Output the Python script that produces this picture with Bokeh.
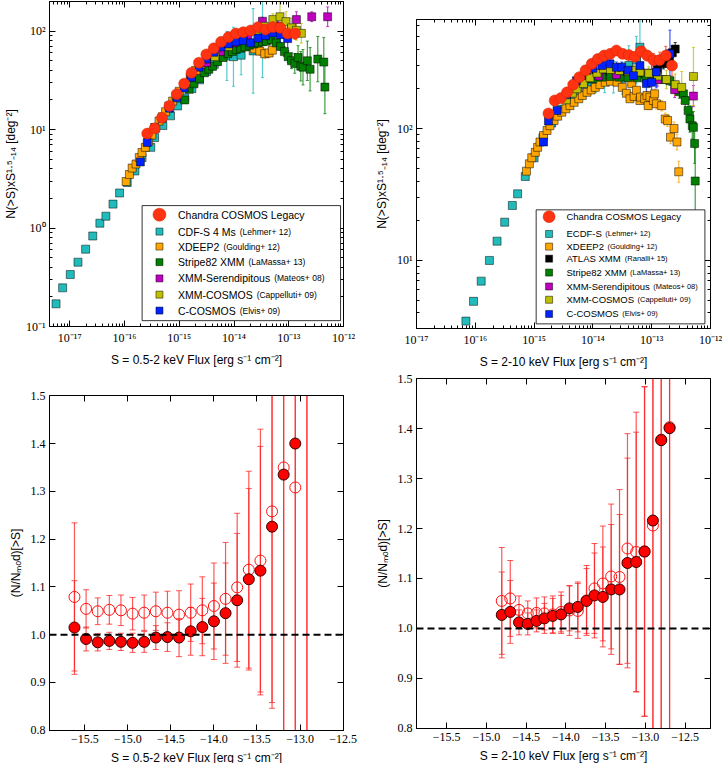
import numpy as np
from bokeh.plotting import figure
from bokeh.models import (ColumnDataSource, Whisker, TeeHead, FixedTicker,
                          CustomJSTickFormatter, LogAxis, LinearAxis, Label,
                          BoxAnnotation, Span)
from bokeh.layouts import row, column
from bokeh.embed import file_html
from bokeh.resources import INLINE

# ---------------- 0.5-2 keV band: N(>S) x S^1.5 (log10 flux, value, error in dex) ----------------
soft_chandra_logS = [-15.585, -15.45, -15.315, -15.18, -15.045, -14.91, -14.775, -14.64, -14.505, -14.37,
                     -14.235, -14.1, -13.965, -13.83, -13.695, -13.56, -13.425, -13.29, -13.155, -13.02, -12.885]
soft_chandra_N = [9.1, 10.3, 13.2, 17.4, 22.9, 29.3, 37.8, 47.8, 58, 66.9,
                  77.8, 87, 94.7, 97.7, 101.6, 109.8, 104, 110, 108, 94.7, 94.7]
soft_chandra_dex = [0.01, 0.01, 0.01, 0.01, 0.01, 0.01, 0.01, 0.01, 0.01, 0.01,
                    0.01, 0.012, 0.014, 0.016, 0.018, 0.02, 0.025, 0.03, 0.035, 0.045, 0.06]

soft_ccosmos_logS = [-15.71, -15.585, -15.45, -15.315, -15.18, -15.045, -14.91, -14.775, -14.64, -14.505,
                     -14.37, -14.235, -14.1, -13.965, -13.83, -13.695, -13.56, -13.425, -13.29, -13.155, -13.02]
soft_ccosmos_N = [4.7, 7.4, 10.5, 13, 16.5, 21, 26.5, 34, 43, 52, 61, 69, 74, 78, 80, 76, 85, 90, 96, 92, 84]
soft_ccosmos_dex = [0.02, 0.02, 0.02, 0.02, 0.02, 0.02, 0.02, 0.02, 0.02, 0.02,
                    0.02, 0.02, 0.025, 0.025, 0.03, 0.035, 0.04, 0.05, 0.07, 0.1, 0.15]

soft_cdfs_logS = [-17.25, -17.13, -16.99, -16.85, -16.71, -16.58, -16.45, -16.34, -16.21, -16.09,
                  -15.95, -15.81, -15.68, -15.52, -15.45, -15.3, -15.16, -15.03, -14.9, -14.77,
                  -14.63, -14.5, -14.36, -14.13, -14.01, -13.87, -13.65, -13.48]
soft_cdfs_N = [0.17, 0.247, 0.337, 0.45, 0.61, 0.83, 1.12, 1.32, 1.75, 2.27,
               2.9, 3.8, 5.2, 6.6, 8.3, 11, 13.8, 17.4, 21, 26,
               32, 39, 46, 56, 55, 57, 63, 95]
soft_cdfs_dex = [0.01, 0.01, 0.01, 0.01, 0.01, 0.01, 0.01, 0.01, 0.01, 0.01,
                 0.01, 0.01, 0.01, 0.012, 0.012, 0.015, 0.015, 0.02, 0.02, 0.025,
                 0.03, 0.04, 0.06, 0.25, 0.3, 0.2, 0.43, 0.45]

soft_xdeep2_logS = [-15.97, -15.91, -15.86, -15.79, -15.73, -15.68, -15.62, -15.56, -15.5, -15.43,
                    -15.37, -15.31, -15.25, -15.19, -15.12, -15.06, -15.0, -14.9, -14.8, -14.7,
                    -14.6, -14.5, -14.4, -14.3, -14.2, -14.1, -14.0, -13.9, -13.8, -13.72,
                    -13.63, -13.53, -13.44, -13.36, -13.3]
soft_xdeep2_N = [2.97, 3.5, 4.07, 4.47, 5.2, 5.85, 6.6, 7.6, 8.8, 10.3,
                 12.2, 13.5, 15.2, 17.4, 19.5, 22, 24.5, 29, 34, 40,
                 46, 52, 58, 63, 67, 70, 72, 71, 72, 70.5,
                 66, 62.7, 59, 60, 64]
soft_xdeep2_dex = [0.01, 0.01, 0.01, 0.01, 0.01, 0.01, 0.01, 0.01, 0.01, 0.01,
                   0.01, 0.01, 0.01, 0.01, 0.01, 0.01, 0.01, 0.012, 0.012, 0.015,
                   0.015, 0.02, 0.02, 0.02, 0.025, 0.025, 0.03, 0.03, 0.035, 0.04,
                   0.04, 0.045, 0.05, 0.05, 0.06]

soft_stripe82_logS = [-14.9, -14.82, -14.73, -14.63, -14.54, -14.46, -14.39, -14.3, -14.2, -14.11,
                      -14.03, -13.96, -13.88, -13.8, -13.72, -13.64, -13.56, -13.48, -13.41, -13.32,
                      -13.23, -13.15, -13.08, -13.01, -12.95, -12.89, -12.83, -12.78, -12.74, -12.66,
                      -12.61, -12.47, -12.36, -12.34]
soft_stripe82_N = [20, 25.7, 29.2, 33, 37.8, 41, 44, 49, 54, 59,
                   62, 65, 67, 69, 72, 74, 76, 78, 79, 82,
                   76, 70, 62, 55, 50, 47, 54, 44, 43, 50,
                   41, 52, 48.5, 27]
soft_stripe82_dex = [0.02, 0.01, 0.01, 0.01, 0.01, 0.01, 0.01, 0.01, 0.01, 0.01,
                     0.012, 0.012, 0.015, 0.015, 0.02, 0.02, 0.02, 0.025, 0.025, 0.03,
                     0.035, 0.04, 0.05, 0.06, 0.08, 0.1, 0.12, 0.15, 0.18, 0.2,
                     0.22, 0.23, 0.25, 0.27]

soft_mateos_logS = [-14.79, -14.5, -14.25, -14.0, -13.75, -13.48, -13.2, -12.86, -12.58, -12.29]
soft_mateos_N = [34, 48, 62, 76, 88, 126, 112, 131, 140, 140]
soft_mateos_dex = [0.02, 0.02, 0.02, 0.025, 0.03, 0.04, 0.05, 0.08, 0.05, 0.1]

soft_xmmcosmos_logS = [-14.35, -14.1, -13.85, -13.6, -13.45, -13.29, -13.16, -13.05, -12.95, -12.86, -12.77]
soft_xmmcosmos_N = [55, 70, 85, 100, 112, 131, 140, 125, 108, 102, 95]
soft_xmmcosmos_dex = [0.02, 0.02, 0.03, 0.03, 0.04, 0.06, 0.14, 0.1, 0.1, 0.1, 0.1]

# ---------------- 2-10 keV band ----------------
hard_chandra_logS = [-14.755, -14.65, -14.545, -14.44, -14.335, -14.23, -14.125, -14.02, -13.915, -13.81,
                     -13.705, -13.6, -13.495, -13.39, -13.285, -13.18, -13.075, -12.97, -12.865, -12.76, -12.655]
hard_chandra_N = [130, 163, 170, 188, 215, 245, 276, 309, 337, 357,
                  368, 390, 368, 360, 350, 385, 357, 330, 330, 357, 300]
hard_chandra_dex = [0.02, 0.015, 0.015, 0.01, 0.01, 0.01, 0.01, 0.01, 0.01, 0.012,
                    0.014, 0.016, 0.02, 0.025, 0.03, 0.035, 0.04, 0.05, 0.06, 0.07, 0.08]

hard_ccosmos_logS = [-14.84, -14.755, -14.61, -14.45, -14.28, -14.11, -14.0, -13.85, -13.71, -13.6,
                     -13.51, -13.4, -13.31, -13.2, -13.09, -13.0, -12.92, -12.69]
hard_ccosmos_N = [79, 114, 137, 180, 230, 276, 286, 300, 309, 291, 291, 276, 251, 300, 219, 224, 268, 368]
hard_ccosmos_dex = [0.02, 0.02, 0.02, 0.02, 0.02, 0.02, 0.02, 0.03, 0.03, 0.04,
                    0.04, 0.05, 0.05, 0.06, 0.08, 0.15, 0.12, 0.18]

hard_ecdfs_logS = [-16.16, -16.03, -15.9, -15.76, -15.63, -15.5, -15.37, -15.28, -15.15, -15.0,
                   -14.85, -14.7, -14.55, -14.4, -14.25, -14.1, -13.95, -13.8, -13.65, -13.5,
                   -13.39, -13.26, -13.2]
hard_ecdfs_N = [3.47, 4.9, 6.97, 10, 14, 19.5, 26.1, 32, 43.3, 60,
                85, 110, 140, 165, 190, 210, 225, 235, 245, 240,
                300, 330, 413]
hard_ecdfs_dex = [0.01, 0.01, 0.01, 0.01, 0.01, 0.01, 0.01, 0.012, 0.015, 0.02,
                  0.02, 0.025, 0.03, 0.04, 0.05, 0.06, 0.08, 0.1, 0.12, 0.12,
                  0.15, 0.18, 0.2]

hard_xdeep2_logS = [-15.13, -15.08, -15.04, -14.98, -14.94, -14.9, -14.84, -14.78, -14.73, -14.66,
                    -14.6, -14.53, -14.46, -14.39, -14.32, -14.24, -14.18, -14.1, -14.03, -13.96,
                    -13.88, -13.79, -13.7, -13.59, -13.5, -13.43, -13.37, -13.34, -13.3, -13.26,
                    -13.2, -13.19, -13.12, -13.08, -13.06, -13.03, -12.97, -12.95, -12.92, -12.83,
                    -12.77, -12.73, -12.68, -12.62, -12.57, -12.54]
hard_xdeep2_N = [47.5, 54, 60, 66, 72, 79, 88.5, 96.6, 105, 115,
                 124, 133, 141, 149, 158, 168, 178, 188, 196, 205,
                 215, 224, 228, 224, 205, 185, 168, 219, 175, 195,
                 163, 173, 168, 178, 149, 173, 163, 183, 154, 149,
                 118, 115, 86, 100, 79, 47]
hard_xdeep2_dex = [0.01, 0.01, 0.01, 0.01, 0.01, 0.01, 0.01, 0.01, 0.01, 0.01,
                   0.01, 0.01, 0.01, 0.01, 0.01, 0.01, 0.01, 0.01, 0.01, 0.01,
                   0.012, 0.012, 0.015, 0.015, 0.02, 0.02, 0.02, 0.02, 0.025, 0.025,
                   0.025, 0.025, 0.03, 0.03, 0.03, 0.03, 0.035, 0.035, 0.04, 0.04,
                   0.045, 0.045, 0.05, 0.05, 0.06, 0.08]

hard_atlas_logS = [-14.1, -13.95, -13.8, -13.65, -13.5, -13.35, -13.2, -13.05, -12.9, -12.8, -12.7, -12.65, -12.6]
hard_atlas_N = [240, 255, 268, 275, 270, 262, 258, 262, 280, 310, 345, 375, 400]
hard_atlas_dex = [0.02, 0.02, 0.02, 0.02, 0.02, 0.025, 0.025, 0.03, 0.035, 0.04, 0.045, 0.05, 0.05]

hard_stripe82_logS = [-14.3, -14.15, -14.0, -13.85, -13.7, -13.55, -13.4, -13.25, -13.1, -12.95,
                      -12.8, -12.69, -12.6, -12.53, -12.46, -12.43, -12.38, -12.35, -12.31, -12.29,
                      -12.27, -12.26]
hard_stripe82_N = [215, 228, 238, 245, 248, 245, 243, 242, 240, 238,
                   235, 230, 205, 190, 183, 163, 137, 118, 105, 102,
                   77, 40]
hard_stripe82_dex = [0.01, 0.01, 0.01, 0.01, 0.01, 0.015, 0.015, 0.02, 0.02, 0.025,
                     0.03, 0.035, 0.04, 0.05, 0.06, 0.07, 0.08, 0.1, 0.1, 0.12,
                     0.15, 0.25]

hard_mateos_logS = [-14.2, -13.9, -13.6, -13.2, -12.9, -12.61, -12.29]
hard_mateos_N = [230, 250, 255, 268, 235, 197, 176]
hard_mateos_dex = [0.02, 0.02, 0.03, 0.04, 0.05, 0.06, 0.08]

hard_xmmcosmos_logS = [-14.45, -14.35, -14.27, -14.16, -14.05, -13.93, -13.82, -13.7, -13.55, -13.4,
                       -13.31, -13.2, -13.05, -12.9, -12.75, -12.6, -12.49, -12.29]
hard_xmmcosmos_N = [165, 185, 200, 219, 242, 263, 283, 280, 275, 270,
                    276, 268, 262, 250, 235, 215, 205, 248]
hard_xmmcosmos_dex = [0.02, 0.02, 0.02, 0.02, 0.02, 0.02, 0.025, 0.025, 0.03, 0.03,
                      0.035, 0.04, 0.05, 0.06, 0.07, 0.08, 0.12, 0.22]

# ---------------- ratio to model, 0.5-2 keV ----------------
soft_ratio_logS = [-15.62, -15.485, -15.35, -15.215, -15.08, -14.945, -14.81, -14.675, -14.54, -14.405,
                   -14.27, -14.135, -14.0, -13.865, -13.73, -13.595, -13.46, -13.325, -13.19, -13.055, -12.92]
soft_ratio_filled = [1.015, 0.991, 0.984, 0.987, 0.985, 0.983, 0.985, 0.994, 0.995, 0.994,
                     1.007, 1.016, 1.028, 1.045, 1.072, 1.116, 1.134, 1.226, 1.335, 1.40, 1.62]
soft_ratio_filled_err = [0.098, 0.025, 0.018, 0.018, 0.018, 0.02, 0.022, 0.025, 0.03, 0.04,
                         0.05, 0.06, 0.08, 0.105, 0.14, 0.19, 0.26, 0.38, 0.7, 0.9, 1.0]
soft_ratio_open = [1.079, 1.054, 1.049, 1.052, 1.051, 1.044, 1.046, 1.049, 1.046, 1.042,
                   1.046, 1.051, 1.060, 1.075, 1.099, 1.136, 1.155, 1.258, 1.350, 1.308, 1.70]
soft_ratio_open_err = [0.155, 0.04, 0.028, 0.03, 0.032, 0.034, 0.037, 0.04, 0.045, 0.05,
                       0.06, 0.07, 0.09, 0.118, 0.155, 0.206, 0.275, 0.4, 0.75, 0.95, 1.0]

# ---------------- ratio to model, 2-10 keV ----------------
hard_ratio_logS = [-14.807, -14.70, -14.59, -14.48, -14.37, -14.27, -14.165, -14.06, -13.955, -13.85,
                   -13.74, -13.64, -13.535, -13.43, -13.325, -13.225, -13.115, -13.01, -12.905, -12.80, -12.695]
hard_ratio_filled = [1.027, 1.033, 1.012, 1.009, 1.015, 1.020, 1.025, 1.028, 1.040, 1.043,
                     1.055, 1.066, 1.063, 1.078, 1.078, 1.131, 1.133, 1.154, 1.216, 1.377, 1.401]
hard_ratio_filled_err = [0.086, 0.063, 0.025, 0.022, 0.022, 0.03, 0.035, 0.038, 0.045, 0.05,
                         0.065, 0.085, 0.1, 0.13, 0.15, 0.21, 0.26, 0.33, 0.6, 0.7, 0.9]
hard_ratio_open = [1.055, 1.060, 1.037, 1.030, 1.031, 1.030, 1.028, 1.033, 1.036, 1.035,
                   1.056, 1.080, 1.090, 1.104, 1.103, 1.160, 1.153, 1.154, 1.206, 1.378, 1.403]
hard_ratio_open_err = [0.107, 0.076, 0.028, 0.025, 0.03, 0.033, 0.037, 0.04, 0.05, 0.055,
                       0.07, 0.09, 0.115, 0.145, 0.175, 0.23, 0.28, 0.33, 0.6, 0.7, 0.9]

# ---------------- legend texts ----------------
soft_legend_names = ["Chandra COSMOS Legacy", "CDF-S 4 Ms", "XDEEP2", "Stripe82 XMM",
                     "XMM-Serendipitous", "XMM-COSMOS", "C-COSMOS"]
soft_legend_refs = ["", "(Lehmer+ 12)", "(Goulding+ 12)", "(LaMassa+ 13)",
                    "(Mateos+ 08)", "(Cappelluti+ 09)", "(Elvis+ 09)"]
hard_legend_names = ["Chandra COSMOS Legacy", "ECDF-S", "XDEEP2", "ATLAS XMM", "Stripe82 XMM",
                     "XMM-Serendipitous", "XMM-COSMOS", "C-COSMOS"]
hard_legend_refs = ["", "(Lehmer+ 12)", "(Goulding+ 12)", "(Ranalli+ 15)", "(LaMassa+ 13)",
                    "(Mateos+ 08)", "(Cappelluti+ 09)", "(Elvis+ 09)"]

# ---------------- style ----------------
RED = "#ff3311"
CYAN = "#22bbbb"
ORANGE = "#ffa500"
GREEN = "#007f00"
MAGENTA = "#bf00bf"
OLIVE = "#bfbf00"
BLUE = "#0022ff"
BLACK = "#000000"
SERIF = "Liberation Serif"
SANS = "Liberation Sans"

YLAB_TOP = "N(>S)xS\u00b9\u00b7\u2075\u208b\u2081\u2084 [deg\u207b\u00b2]"
XLAB_SOFT = "S = 0.5-2 keV Flux [erg s\u207b\u00b9 cm\u207b\u00b2]"
XLAB_HARD = "S = 2-10 keV Flux [erg s\u207b\u00b9 cm\u207b\u00b2]"
YLAB_BOT = "(N/N\u2098\u2092d)[>S]"

LOG_FMT = """
const e = Math.round(Math.log10(tick));
const sup = {'-':'\u207b','0':'\u2070','1':'\u00b9','2':'\u00b2','3':'\u00b3','4':'\u2074','5':'\u2075','6':'\u2076','7':'\u2077','8':'\u2078','9':'\u2079'};
return '10' + String(e).split('').map(c => sup[c]).join('');
"""
LIN_FMT = "return (tick < 0 ? '\u2212' : '') + Math.abs(tick).toFixed(1);"

# Arial / Liberation Sans advance widths (per em) for placing the small reference texts
ARIAL_W = {" ": .278, "-": .333, "2": .556, "4": .556, "8": .556, "A": .667, "C": .722, "D": .722,
           "E": .667, "F": .611, "L": .556, "M": .833, "O": .778, "P": .667, "S": .667, "T": .611,
           "X": .667, "a": .556, "c": .5, "d": .556, "e": .556, "g": .556, "h": .556, "i": .222,
           "l": .222, "n": .556, "o": .556, "p": .556, "r": .333, "s": .5, "t": .278, "u": .556,
           "y": .5}


def text_width(s, px):
    return sum(ARIAL_W.get(c, .556) for c in s) * px


def log_ticks(e0, e1):
    major = [10.0 ** e for e in range(e0, e1 + 1)]
    minor = [m * 10.0 ** e for e in range(e0 - 1, e1 + 1) for m in range(2, 10)]
    return major, minor


def style_axis(ax, size, minor):
    ax.major_tick_in = 6
    ax.major_tick_out = 0
    ax.minor_tick_in = 3 if minor else 0
    ax.minor_tick_out = 0
    if not minor:
        ax.minor_tick_line_color = None
    ax.axis_line_color = "black"
    ax.major_tick_line_color = "black"
    ax.major_label_text_font = SERIF
    ax.major_label_text_font_size = size
    ax.major_label_text_color = "black"
    ax.major_label_standoff = 4
    ax.axis_label_text_font = SANS
    ax.axis_label_text_font_size = "12px"
    ax.axis_label_text_font_style = "normal"
    ax.axis_label_text_color = "black"
    ax.axis_label_standoff = 5


def make_panel(xr, yr, xlog, ylog, fh, bl, br, bt, bb, xt, xm, yt, ym, xlabel, ylabel, tsize):
    p = figure(frame_width=294, frame_height=fh, x_range=xr, y_range=yr,
               x_axis_type="log" if xlog else "linear", y_axis_type="log" if ylog else "linear",
               output_backend="svg", toolbar_location=None,
               min_border_left=bl, min_border_right=br, min_border_top=bt, min_border_bottom=bb)
    p.xgrid.visible = False
    p.ygrid.visible = False
    p.outline_line_color = "black"
    p.outline_line_width = 1
    p.outline_line_alpha = 1
    p.background_fill_color = "white"
    p.border_fill_color = "white"
    p.xaxis.ticker = FixedTicker(ticks=xt, minor_ticks=xm)
    p.yaxis.ticker = FixedTicker(ticks=yt, minor_ticks=ym)
    p.xaxis.formatter = CustomJSTickFormatter(code=LOG_FMT if xlog else LIN_FMT)
    p.yaxis.formatter = CustomJSTickFormatter(code=LOG_FMT if ylog else LIN_FMT)
    p.xaxis.axis_label = xlabel
    p.yaxis.axis_label = ylabel
    style_axis(p.xaxis[0], tsize, xlog)
    style_axis(p.yaxis[0], tsize, ylog)
    top = (LogAxis if xlog else LinearAxis)(ticker=FixedTicker(ticks=xt, minor_ticks=xm),
                                            formatter=CustomJSTickFormatter(code="return '';"))
    right = (LogAxis if ylog else LinearAxis)(ticker=FixedTicker(ticks=yt, minor_ticks=ym),
                                              formatter=CustomJSTickFormatter(code="return '';"))
    for ax, lg in ((top, xlog), (right, ylog)):
        style_axis(ax, "0px", lg)
        ax.major_label_standoff = 0
    p.add_layout(top, "above")
    p.add_layout(right, "right")
    return p


def add_series(p, logS, N, dex, color, marker, size, edge, edge_alpha=0.7):
    S = 10.0 ** np.array(logS)
    y = np.array(N, dtype=float)
    d = np.array(dex, dtype=float)
    src = ColumnDataSource(dict(x=S, y=y, lo=y / 10.0 ** d, hi=y * 10.0 ** d))
    p.add_layout(Whisker(source=src, base="x", upper="hi", lower="lo", dimension="height",
                         line_color=color, line_alpha=0.75, line_width=1.2,
                         upper_head=TeeHead(size=3, line_color=color, line_alpha=0.75),
                         lower_head=TeeHead(size=3, line_color=color, line_alpha=0.75)))
    p.scatter("x", "y", source=src, marker=marker, size=size, fill_color=color,
              line_color=edge, line_alpha=edge_alpha, line_width=0.7)


def pos(rng, f, log):
    lo, hi = rng
    if log:
        return 10.0 ** (np.log10(lo) + f * (np.log10(hi) - np.log10(lo)))
    return lo + f * (hi - lo)


def add_legend(p, xr, yr, box, rows_y, mx, tx, names, refs, styles, fs_main, fs_ref, gap):
    x0, x1, y0, y1 = box
    p.add_layout(BoxAnnotation(left=pos(xr, x0, True), right=pos(xr, x1, True),
                               bottom=pos(yr, y0, True), top=pos(yr, y1, True),
                               fill_color="white", fill_alpha=1, line_color="black",
                               line_width=1, line_alpha=0.8))
    for i, (nm, rf, (col, mk, sz)) in enumerate(zip(names, refs, styles)):
        yy = pos(yr, rows_y[i], True)
        p.scatter([pos(xr, mx, True)], [yy], marker=mk, size=sz, fill_color=col,
                  line_color=("#cc2200" if mk == "circle" else "black"), line_alpha=0.7,
                  line_width=0.7, level="overlay")
        p.add_layout(Label(x=pos(xr, tx, True), y=yy, text=nm, text_font=SANS,
                           text_font_size="%.1fpx" % fs_main, text_baseline="middle",
                           text_align="left", text_color="black", level="overlay"))
        if rf:
            fx = tx + (text_width(nm, fs_main) + gap) / 294.0
            p.add_layout(Label(x=pos(xr, fx, True), y=yy, text=rf, text_font=SANS,
                               text_font_size="%.1fpx" % fs_ref, text_baseline="middle",
                               text_align="left", text_color="black", level="overlay"))


# ================= panel 1: soft logN-logS =================
X1 = (10.0 ** -17.37, 1e-12)
Y1 = (0.1, 200.0)
xt, xm = log_ticks(-17, -12)
yt, ym = log_ticks(-1, 2)
p1 = make_panel(X1, Y1, True, True, 325, 48, 20, 1, 54, xt, xm, yt, ym, XLAB_SOFT, YLAB_TOP, "12px")
add_series(p1, soft_cdfs_logS, soft_cdfs_N, soft_cdfs_dex, CYAN, "square", 8, "black")
add_series(p1, soft_xdeep2_logS, soft_xdeep2_N, soft_xdeep2_dex, ORANGE, "square", 8, "black")
add_series(p1, soft_stripe82_logS, soft_stripe82_N, soft_stripe82_dex, GREEN, "square", 8, "black")
add_series(p1, soft_mateos_logS, soft_mateos_N, soft_mateos_dex, MAGENTA, "square", 8, "black")
add_series(p1, soft_xmmcosmos_logS, soft_xmmcosmos_N, soft_xmmcosmos_dex, OLIVE, "square", 8, "black")
add_series(p1, soft_ccosmos_logS, soft_ccosmos_N, soft_ccosmos_dex, BLUE, "square", 8, "black")
add_series(p1, soft_chandra_logS, soft_chandra_N, soft_chandra_dex, RED, "circle", 11, "#cc2200")
soft_styles = [(RED, "circle", 13), (CYAN, "square", 7), (ORANGE, "square", 7), (GREEN, "square", 7),
               (MAGENTA, "square", 7), (OLIVE, "square", 7), (BLUE, "square", 7)]
add_legend(p1, X1, Y1, (0.315, 0.99, 0.018, 0.372),
           [0.344, 0.292, 0.246, 0.198, 0.148, 0.098, 0.049], 0.374, 0.437,
           soft_legend_names, soft_legend_refs, soft_styles, 10.5, 8.5, 4)

# ================= panel 2: hard logN-logS =================
X2 = (1e-17, 1e-12)
Y2 = (3.05, 670.0)
xt2, xm2 = log_ticks(-17, -12)
yt2, ym2 = log_ticks(1, 2)
ym2 = [v for v in ym2 if v > 2.5]
p2 = make_panel(X2, Y2, True, True, 309, 53, 15, 19, 44, xt2, xm2, yt2, ym2, XLAB_HARD, YLAB_TOP, "12px")
add_series(p2, hard_ecdfs_logS, hard_ecdfs_N, hard_ecdfs_dex, CYAN, "square", 8, "black")
add_series(p2, hard_xdeep2_logS, hard_xdeep2_N, hard_xdeep2_dex, ORANGE, "square", 8, "black")
add_series(p2, hard_atlas_logS, hard_atlas_N, hard_atlas_dex, BLACK, "square", 8, "black")
add_series(p2, hard_stripe82_logS, hard_stripe82_N, hard_stripe82_dex, GREEN, "square", 8, "black")
add_series(p2, hard_mateos_logS, hard_mateos_N, hard_mateos_dex, MAGENTA, "square", 8, "black")
add_series(p2, hard_xmmcosmos_logS, hard_xmmcosmos_N, hard_xmmcosmos_dex, OLIVE, "square", 8, "black")
add_series(p2, hard_ccosmos_logS, hard_ccosmos_N, hard_ccosmos_dex, BLUE, "square", 8, "black")
add_series(p2, hard_chandra_logS, hard_chandra_N, hard_chandra_dex, RED, "circle", 11, "#cc2200")
hard_styles = [(RED, "circle", 12), (CYAN, "square", 7), (ORANGE, "square", 7), (BLACK, "square", 7),
               (GREEN, "square", 7), (MAGENTA, "square", 7), (OLIVE, "square", 7), (BLUE, "square", 7)]
add_legend(p2, X2, Y2, (0.407, 0.981, 0.015, 0.384),
           [0.362, 0.306, 0.265, 0.226, 0.181, 0.136, 0.093, 0.047], 0.451, 0.510,
           hard_legend_names, hard_legend_refs, hard_styles, 9.5, 7.5, 3.5)


# ================= ratio panels =================
def ratio_panel(xr, fh, bt, bb, bl, br, logS, yf, ef, yo, eo, xlabel):
    xt_ = [-15.5, -15.0, -14.5, -14.0, -13.5, -13.0, -12.5]
    yt_ = [0.8, 0.9, 1.0, 1.1, 1.2, 1.3, 1.4, 1.5]
    p = make_panel(xr, (0.7995, 1.5005), False, False, fh, bl, br, bt, bb, xt_, [], yt_, [],
                   xlabel, YLAB_BOT, "12px")
    x = np.array(logS)
    yf = np.array(yf); ef = np.array(ef); yo = np.array(yo); eo = np.array(eo)
    so = ColumnDataSource(dict(x=x, y=yo, lo=yo - eo, hi=yo + eo))
    sf = ColumnDataSource(dict(x=x, y=yf, lo=yf - ef, hi=yf + ef))
    for s in (so, sf):
        p.add_layout(Whisker(source=s, base="x", upper="hi", lower="lo", dimension="height",
                             line_color="#ff2020", line_alpha=0.75, line_width=1.2,
                             upper_head=TeeHead(size=6, line_color="#ff2020", line_alpha=0.75),
                             lower_head=TeeHead(size=6, line_color="#ff2020", line_alpha=0.75)))
    p.add_layout(Span(location=1.0, dimension="width", line_color="black",
                      line_dash="7 4", line_width=2))
    p.scatter("x", "y", source=so, marker="circle", size=11, fill_color=None,
              line_color="#ff1010", line_width=1)
    p.scatter("x", "y", source=sf, marker="circle", size=11, fill_color="#ff0000",
              line_color="#330000", line_width=1)
    return p


p3 = ratio_panel((-15.91, -12.495), 335, 15, 33, 48, 20, soft_ratio_logS,
                 soft_ratio_filled, soft_ratio_filled_err, soft_ratio_open, soft_ratio_open_err, XLAB_SOFT)
p4 = ratio_panel((-15.88, -12.18), 350, 6, 35, 53, 15, hard_ratio_logS,
                 hard_ratio_filled, hard_ratio_filled_err, hard_ratio_open, hard_ratio_open_err, XLAB_HARD)

layout = row(column(p1, p3), column(p2, p4))
open("out.html", "w").write(file_html(layout, INLINE, title="logN-logS"))
